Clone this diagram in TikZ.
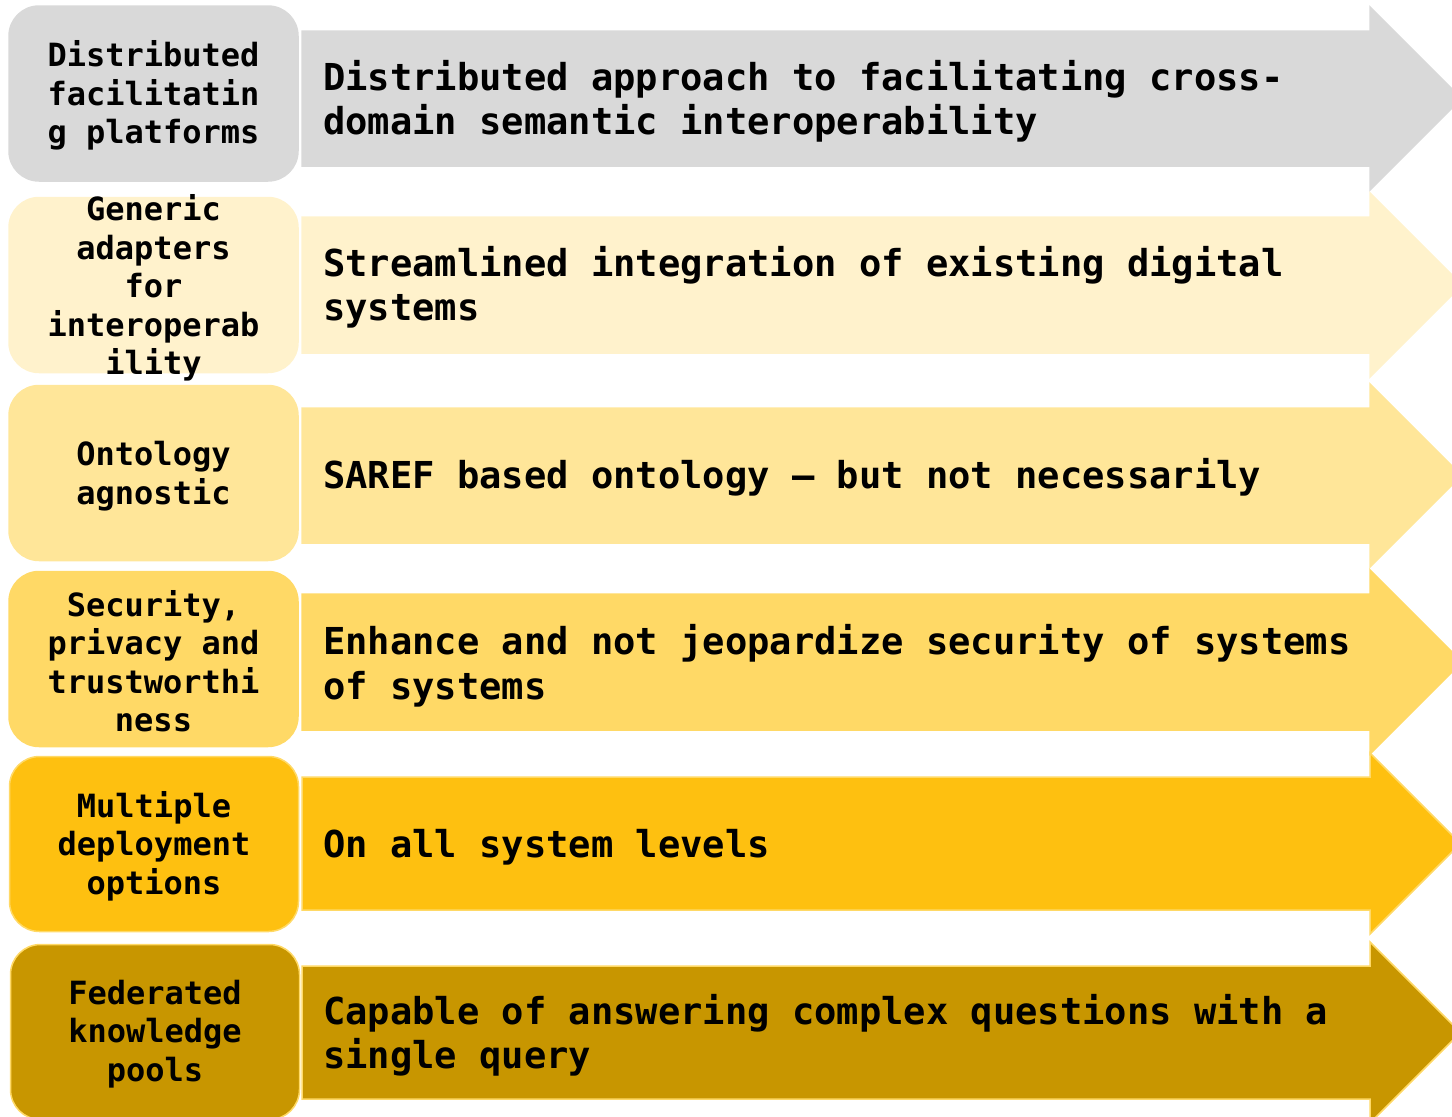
\documentclass[tikz,border=0pt]{standalone}
\usepackage{fontspec}
\setmonofont{DejaVu Sans Mono}
\definecolor{c1}{HTML}{D9D9D9}
\definecolor{c2}{HTML}{FFF2CC}
\definecolor{c3}{HTML}{FFE699}
\definecolor{c4}{HTML}{FFD966}
\definecolor{c5}{HTML}{FEC010}
\definecolor{c6}{HTML}{C89600}
\definecolor{edge}{HTML}{FFD966}
% arrow band: #1 shaft top, #2 shaft bottom, #3 fill, #4 outline
\newcommand\rowband[4]{%
  \pgfmathsetmacro\headtop{#1-24}%
  \pgfmathsetmacro\headbot{#2+24}%
  \pgfmathsetmacro\midy{(#1+#2)/2}%
  \pgfmathsetmacro\tipx{1370+(#2-#1)/2+24}%
  \filldraw[fill=#3,draw=#4,line width=1.5pt,line join=miter]
    (302,#1) -- (1370,#1) -- (1370,\headtop) -- (\tipx,\midy)
    -- (1370,\headbot) -- (1370,#2) -- (302,#2) -- cycle;}
\begin{document}
\begin{tikzpicture}[x=1pt,y=-1pt,
  lbox/.style={rounded corners=30pt,minimum width=289pt,minimum height=175pt,
    inner sep=0pt,line width=1.5pt},
  ltext/.style={font=\fontsize{32}{38.5}\selectfont\ttfamily\bfseries,
    align=center,inner sep=0pt,yshift=-2pt},
  rtext/.style={font=\fontsize{37.1}{44.5}\selectfont\ttfamily\bfseries,
    align=left,inner sep=0pt,anchor=west,yshift=-2.5pt}]
\useasboundingbox (0,0) rectangle (1452,1117);
\clip (0,0) rectangle (1452,1117);

% row 1
\node[lbox,fill=c1,draw=c1] (b1) at (153.5,93.5) {};
\node[ltext] (l1) at (b1.center) {Distributed\\facilitatin\\g platforms};
\rowband{31}{166}{c1}{c1}
\node[rtext] (r1) at (323,99) {Distributed approach to facilitating cross-\\domain semantic interoperability};

% row 2
\node[lbox,fill=c2,draw=c2] (b2) at (153.5,285) {};
\node[ltext] (l2) at ([yshift=-1pt]b2.center) {Generic\\adapters\\for\\interoperab\\ility};
\rowband{217}{353}{c2}{c2}
\node[rtext] (r2) at (323,285) {Streamlined integration of existing digital\\systems};

% row 3
\node[lbox,fill=c3,draw=c3] (b3) at (153.5,473) {};
\node[ltext] (l3) at ([yshift=-1pt]b3.center) {Ontology\\agnostic};
\rowband{408}{543}{c3}{c3}
\node[rtext] (r3) at (323,475) {SAREF based ontology – but not necessarily};

% row 4
\node[lbox,fill=c4,draw=c4] (b4) at (153.5,659) {};
\node[ltext] (l4) at (b4.center) {Security,\\privacy and\\trustworthi\\ness};
\rowband{594}{730}{c4}{c4}
\node[rtext] (r4) at (323,663) {Enhance and not jeopardize security of systems\\of systems};

% row 5
\node[lbox,fill=c5,draw=edge] (b5) at (154,844) {};
\node[ltext] (l5) at (b5.center) {Multiple\\deployment\\options};
\rowband{777}{910}{c5}{edge}
\node[rtext] (r5) at (323,845) {On all system levels};

% row 6
\node[lbox,fill=c6,draw=edge] (b6) at (155,1032) {};
\node[ltext] (l6) at (b6.center) {Federated\\knowledge\\pools};
\rowband{966}{1099}{c6}{edge}
\node[rtext] (r6) at (323,1033) {Capable of answering complex questions with a\\single query};
\end{tikzpicture}
\end{document}
